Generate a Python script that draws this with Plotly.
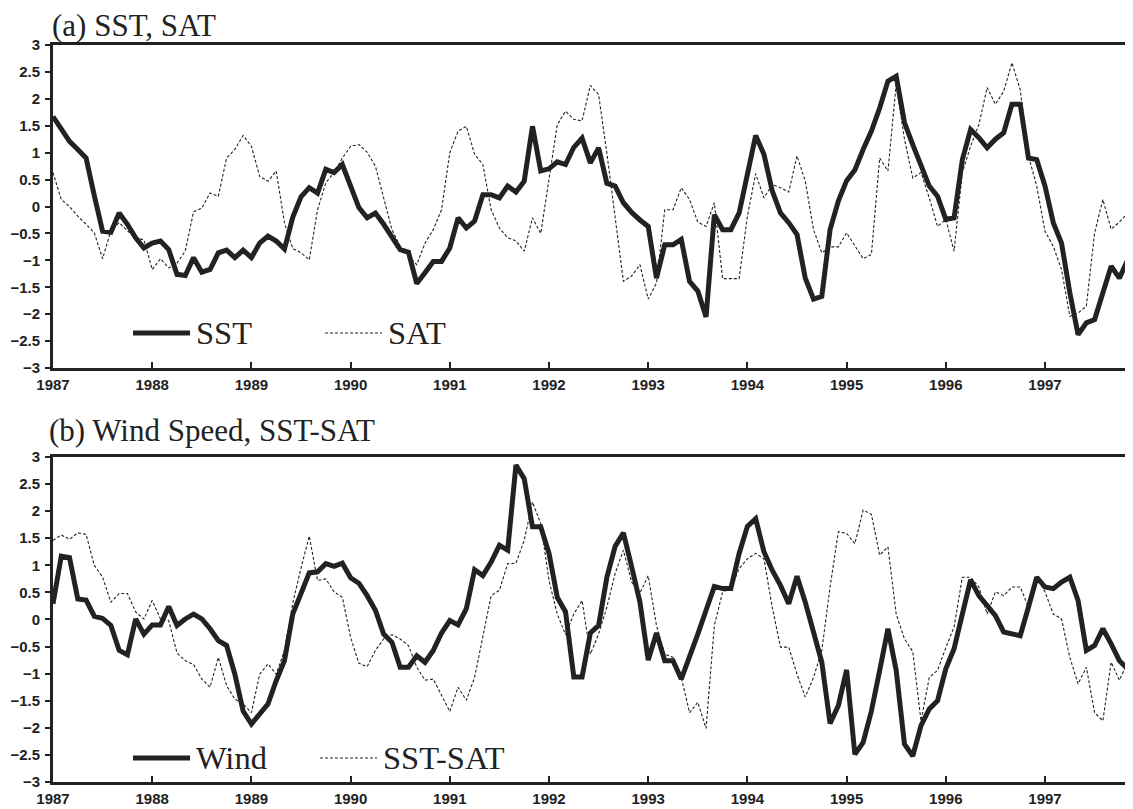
import plotly.graph_objects as go

# ---------------- data (monthly, Jan 1987 onwards) ----------------
start_year = 1987
years = [1987, 1988, 1989, 1990, 1991, 1992, 1993, 1994, 1995, 1996, 1997]

sst = [1.67, 1.43, 1.21, 1.06, 0.90, 0.20, -0.46, -0.48, -0.12, -0.33, -0.58, -0.77,
       -0.68, -0.64, -0.80, -1.26, -1.28, -0.95, -1.22, -1.17, -0.86, -0.81, -0.95, -0.81,
       -0.95, -0.68, -0.55, -0.64, -0.79, -0.20, 0.18, 0.35, 0.25, 0.69, 0.63, 0.78,
       0.38, -0.02, -0.21, -0.12, -0.33, -0.58, -0.80, -0.85, -1.43, -1.23, -1.02, -1.02,
       -0.77, -0.21, -0.40, -0.27, 0.22, 0.22, 0.16, 0.38, 0.27, 0.47, 1.49, 0.66,
       0.70, 0.83, 0.78, 1.10, 1.27, 0.81, 1.09, 0.43, 0.38, 0.07, -0.11, -0.25,
       -0.37, -1.33, -0.71, -0.71, -0.61, -1.39, -1.57, -2.05, -0.15, -0.43, -0.43, -0.12,
       0.59, 1.32, 0.97, 0.29, -0.12, -0.30, -0.52, -1.33, -1.72, -1.67, -0.43, 0.10,
       0.48, 0.68, 1.06, 1.40, 1.83, 2.33, 2.42, 1.56, 1.15, 0.75, 0.38, 0.19,
       -0.24, -0.21, 0.87, 1.43, 1.28, 1.09, 1.25, 1.37, 1.90, 1.90, 0.90, 0.87,
       0.38, -0.30, -0.68, -1.60, -2.38, -2.16, -2.10, -1.60, -1.11, -1.33, -0.99, -0.58]

sat = [0.63, 0.13, 0.00, -0.18, -0.33, -0.49, -0.97, -0.45, -0.30, -0.45, -0.58, -0.62,
       -1.17, -0.97, -1.14, -1.05, -0.83, -0.10, -0.03, 0.25, 0.19, 0.90, 1.06, 1.32,
       1.12, 0.56, 0.47, 0.66, -0.30, -0.78, -0.86, -0.99, -0.06, 0.44, 0.63, 0.90,
       1.12, 1.15, 1.01, 0.75, 0.16, -0.43, -0.74, -0.91, -1.08, -0.68, -0.43, -0.06,
       1.00, 1.40, 1.49, 0.97, 0.78, -0.06, -0.40, -0.58, -0.64, -0.83, -0.21, -0.50,
       0.53, 1.52, 1.77, 1.62, 1.59, 2.25, 2.08, 0.99, -0.20, -1.39, -1.29, -1.08,
       -1.72, -1.42, -0.06, -0.06, 0.35, 0.13, -0.29, -0.37, 0.07, -1.34, -1.34, -1.34,
       -0.18, 0.61, 0.16, 0.41, 0.35, 0.27, 0.94, 0.47, -0.43, -0.86, -0.75, -0.75,
       -0.49, -0.74, -0.97, -0.89, 0.90, 0.66, 2.27, 1.25, 0.53, 0.63, 0.16, -0.37,
       -0.24, -0.83, 0.63, 1.12, 1.52, 2.21, 1.90, 2.14, 2.67, 2.17, 0.94, 0.38,
       -0.46, -0.74, -1.17, -2.04, -1.98, -1.85, -0.49, 0.13, -0.42, -0.29, -0.12, -0.80]

wind = [0.29, 1.17, 1.14, 0.38, 0.36, 0.06, 0.02, -0.11, -0.57, -0.65, 0.01, -0.27,
        -0.10, -0.10, 0.24, -0.11, 0.01, 0.10, 0.01, -0.17, -0.39, -0.48, -1.01, -1.69,
        -1.93, -1.75, -1.56, -1.13, -0.76, 0.10, 0.48, 0.86, 0.88, 1.03, 0.98, 1.04,
        0.77, 0.67, 0.44, 0.17, -0.27, -0.42, -0.88, -0.88, -0.67, -0.79, -0.57, -0.25,
        -0.02, -0.10, 0.20, 0.92, 0.81, 1.06, 1.37, 1.28, 2.85, 2.60, 1.71, 1.71,
        1.22, 0.41, 0.14, -1.06, -1.06, -0.25, -0.11, 0.78, 1.35, 1.60, 0.97, 0.32,
        -0.75, -0.25, -0.76, -0.76, -1.10, -0.70, -0.27, 0.17, 0.61, 0.57, 0.57, 1.22,
        1.72, 1.86, 1.25, 0.91, 0.63, 0.29, 0.80, 0.32, -0.25, -0.79, -1.92, -1.59,
        -0.93, -2.49, -2.27, -1.69, -0.94, -0.17, -0.94, -2.30, -2.52, -1.96, -1.65, -1.50,
        -0.91, -0.54, 0.10, 0.73, 0.44, 0.26, 0.07, -0.23, -0.27, -0.30, 0.23, 0.78,
        0.60, 0.57, 0.69, 0.78, 0.35, -0.57, -0.48, -0.17, -0.45, -0.76, -0.91, -0.40]

sst_sat = [1.46, 1.56, 1.48, 1.60, 1.57, 1.00, 0.78, 0.32, 0.48, 0.48, 0.14, 0.01,
           0.35, 0.01, -0.02, -0.62, -0.76, -0.83, -1.10, -1.25, -0.70, -1.22, -1.47, -1.56,
           -1.72, -1.01, -0.82, -1.01, -0.57, 0.30, 0.95, 1.54, 0.72, 0.75, 0.51, 0.41,
           -0.33, -0.81, -0.87, -0.57, -0.36, -0.28, -0.36, -0.48, -0.88, -1.12, -1.10, -1.41,
           -1.70, -1.25, -1.49, -1.07, -0.33, 0.44, 0.54, 1.03, 1.04, 1.46, 2.17, 1.77,
           0.72, 0.10, -0.28, 0.10, 0.35, -0.64, -0.27, 0.23, 0.85, 1.28, 0.69, 0.49,
           0.81, -0.11, -0.64, -0.70, -1.07, -1.72, -1.53, -2.01, -0.11, 0.51, 0.57, 0.94,
           1.12, 1.22, 1.12, 0.23, -0.51, -0.51, -1.01, -1.43, -1.07, -0.57, 0.60, 1.62,
           1.59, 1.40, 2.02, 1.94, 1.19, 1.34, 0.10, -0.36, -0.59, -1.87, -1.07, -0.94,
           -0.52, -0.14, 0.78, 0.78, 0.60, 0.10, 0.51, 0.44, 0.60, 0.60, 0.23, 0.78,
           0.51, 0.10, 0.01, -0.70, -1.19, -0.88, -1.72, -1.87, -0.79, -1.12, -0.79, 0.10]

time = [start_year + m / 12 for m in range(len(sst))]

# ---------------- styling ----------------
INK = "#222222"
SERIF = "Liberation Serif, Times New Roman, serif"
TICKFONT = dict(family="Liberation Sans, Arial, sans-serif", size=15, color=INK, weight="bold")

fig = go.Figure()

fig.add_trace(go.Scatter(x=time, y=sat, mode="lines", name="SAT",
                         line=dict(color=INK, width=1.1, dash="3px,2px"),
                         xaxis="x", yaxis="y", showlegend=False))
fig.add_trace(go.Scatter(x=time, y=sst, mode="lines", name="SST",
                         line=dict(color=INK, width=5),
                         xaxis="x", yaxis="y", showlegend=False))
fig.add_trace(go.Scatter(x=time, y=sst_sat, mode="lines", name="SST-SAT",
                         line=dict(color=INK, width=1.1, dash="3px,2px"),
                         xaxis="x2", yaxis="y2", showlegend=False))
fig.add_trace(go.Scatter(x=time, y=wind, mode="lines", name="Wind",
                         line=dict(color=INK, width=5),
                         xaxis="x2", yaxis="y2", showlegend=False))

xcommon = dict(range=[1987, 1997.887], tickmode="array", tickvals=years,
               ticktext=[str(y) for y in years], ticks="inside", ticklen=6,
               tickwidth=2, tickcolor=INK, showline=True, linewidth=3, linecolor=INK,
               mirror=True, showgrid=False, zeroline=False, tickfont=TICKFONT,
               ticklabelstandoff=1, automargin=False)
ycommon = dict(range=[-3, 3], tickmode="linear", tick0=-3, dtick=0.5,
               ticks="outside", ticklen=5, tickwidth=2, tickcolor=INK,
               showline=True, linewidth=3, linecolor=INK, showgrid=False,
               zeroline=False, tickfont=TICKFONT, ticklabelstandoff=2, automargin=False)

# the page body adds an 8px offset, so the figure is 8px smaller than the window
fig.update_layout(
    width=1125, height=801,
    margin=dict(l=45, r=0, t=37, b=27, autoexpand=False),
    paper_bgcolor="white", plot_bgcolor="white",
    xaxis=dict(domain=[0, 1], anchor="y", **xcommon),
    yaxis=dict(domain=[0.5617, 1], anchor="x", **ycommon),
    xaxis2=dict(domain=[0, 1], anchor="y2", **xcommon),
    yaxis2=dict(domain=[0, 0.4410], anchor="x2", **ycommon),
)

# panel titles
fig.add_annotation(text="(a) SST, SAT", xref="paper", yref="paper", x=-0.003, y=1.0266,
                   xanchor="left", yanchor="middle", showarrow=False,
                   font=dict(family=SERIF, size=31, color=INK))
fig.add_annotation(text="(b) Wind Speed, SST-SAT", xref="paper", yref="paper", x=-0.006, y=0.4776,
                   xanchor="left", yanchor="middle", showarrow=False,
                   font=dict(family=SERIF, size=31, color=INK))

# in-plot legends (sample line + label)
def legend_item(x0, x1, ypos, label, solid):
    fig.add_shape(type="line", xref="paper", yref="paper", x0=x0, x1=x1, y0=ypos, y1=ypos,
                  line=dict(color=INK, width=5 if solid else 1.1,
                            dash="solid" if solid else "3px,2px"))
    fig.add_annotation(text=label, xref="paper", yref="paper", x=x1 + 0.004, y=ypos,
                       xanchor="left", yanchor="middle", showarrow=False,
                       font=dict(family=SERIF, size=32.5, color=INK))

legend_item(0.0741, 0.1269, 0.6092, "SST", True)
legend_item(0.2519, 0.3046, 0.6092, "SAT", False)
legend_item(0.0741, 0.1269, 0.0326, "Wind", True)
legend_item(0.2472, 0.3000, 0.0326, "SST-SAT", False)

fig.write_html("out.html")
